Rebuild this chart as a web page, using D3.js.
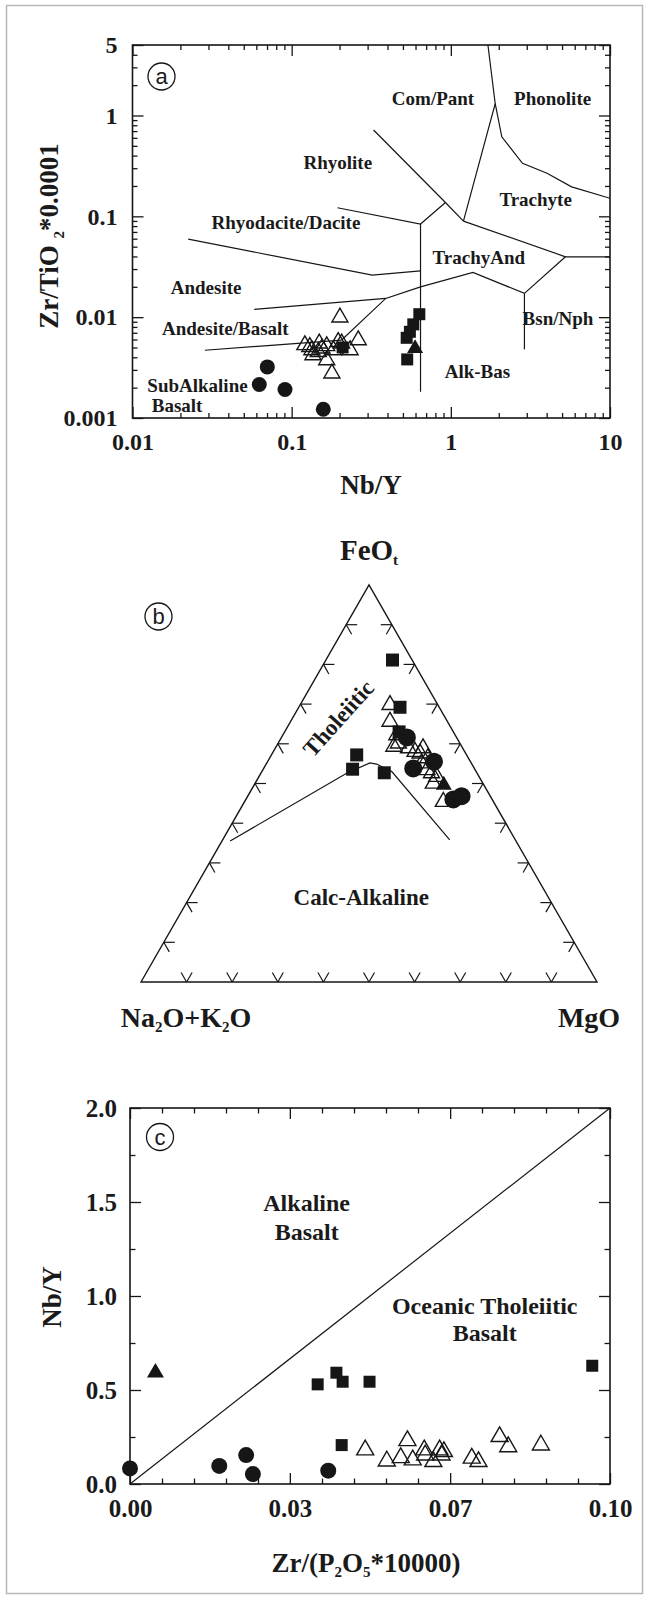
<!DOCTYPE html>
<html>
<head>
<meta charset="utf-8">
<script src="https://cdn.jsdelivr.net/npm/d3@7"></script>
<style>
  html, body { margin: 0; padding: 0; background: #fff; }
  svg { display: block; }
  text { font-family: "Liberation Serif", "Times New Roman", serif; font-weight: bold; fill: #1a1a1a; }
  .circ { font-family: "Liberation Sans", Arial, sans-serif; font-weight: normal; }
</style>
</head>
<body>
<svg id="fig" width="645" height="1600"></svg>
<script>
// ---------- Panel (a): Zr/TiO2 vs Nb/Y ----------
const aCircles  = [[0.0703, 0.00321], [0.0626, 0.00215], [0.0908, 0.00192], [0.158, 0.00122]];
const aSquares  = [[0.634, 0.0107], [0.581, 0.00848], [0.553, 0.00716], [0.528, 0.00624], [0.532, 0.00381], [0.209, 0.00501]];
const aSolidTri = [[0.596, 0.0049]];
const aOpenTri  = [[0.201, 0.00995], [0.121, 0.00529], [0.134, 0.00471], [0.149, 0.0055], [0.136, 0.0042],
                   [0.166, 0.00517], [0.183, 0.00471], [0.196, 0.00569], [0.233, 0.00471], [0.262, 0.00592],
                   [0.166, 0.00375], [0.179, 0.00277], [0.147, 0.00453], [0.130, 0.00508], [0.206, 0.0055],
                   [0.155, 0.0049]];
const aXTicks = [0.01, 0.1, 1, 10];
const aXLabels = ["0.01", "0.1", "1", "10"];
const aYTicks = [0.001, 0.01, 0.1, 1, 5];
const aYLabels = ["0.001", "0.01", "0.1", "1", "5"];
// field boundaries, in (Nb/Y, Zr/TiO2) units
const aBoundaries = [
  [[1.71, 5], [1.9, 1.31], [1.2, 0.0897]],
  [[1.9, 1.31], [2.09, 0.615], [2.82, 0.335], [4.02, 0.267], [5.74, 0.196], [10, 0.151]],
  [[0.327, 0.718], [0.925, 0.137], [1.2, 0.0897]],
  [[1.2, 0.0897], [5.25, 0.0397], [10, 0.0397]],
  [[0.194, 0.1216], [0.645, 0.0838], [0.925, 0.137]],
  [[0.645, 0.0838], [0.645, 0.00182]],
  [[0.0224, 0.0594], [0.321, 0.0261], [0.645, 0.0288]],
  [[5.25, 0.0397], [2.9, 0.0172], [1.377, 0.0278], [0.645, 0.020], [0.390, 0.01534], [0.206, 0.00593]],
  [[2.9, 0.0172], [2.9, 0.0048]],
  [[0.0582, 0.01194], [0.390, 0.01534]],
  [[0.0285, 0.0047], [0.206, 0.00593]]
];
const aFieldNames = ["Com/Pant", "Phonolite", "Rhyolite", "Trachyte", "Rhyodacite/Dacite", "TrachyAnd",
                     "Andesite", "Andesite/Basalt", "Bsn/Nph", "Alk-Bas", "SubAlkaline", "Basalt"];
const aFieldAt = [[0.773, 1.28], [4.36, 1.28], [0.195, 0.297], [3.41, 0.1256], [0.0921, 0.0747], [1.499, 0.0339],
                  [0.029, 0.0171], [0.0383, 0.0067], [4.71, 0.00828], [1.47, 0.00248], [0.0256, 0.00183], [0.01905, 0.00114]];

// ---------- Panel (b): AFM ternary, [Na2O+K2O, FeOt, MgO] in % ----------
const bSquares  = [[4.3, 81.1, 14.6], [8.6, 69.2, 22.2], [11.9, 63.0, 25.1], [24.1, 57.2, 18.7], [26.8, 53.6, 19.6], [20.3, 52.7, 27.0]];
const bCircles  = [[10.9, 61.6, 27.5], [13.4, 53.8, 32.8], [8.0, 55.5, 36.5], [8.5, 46.0, 45.5], [6.3, 46.8, 46.9]];
const bSolidTri = [[8.8, 49.6, 41.6]];
const bOpenTri  = [[10.5, 69.8, 19.7], [12.6, 65.6, 21.8], [12.8, 62.2, 25.0], [14.9, 59.3, 25.8], [13.5, 60.1, 26.4],
                   [11.9, 58.9, 29.2], [10.9, 58.0, 31.1], [8.7, 58.9, 32.4], [10.0, 57.6, 32.4], [10.9, 55.1, 34.0],
                   [10.6, 53.4, 36.0], [10.0, 52.6, 37.4], [9.3, 51.7, 39.0], [10.9, 50.0, 39.1], [11.0, 45.4, 43.6],
                   [8.9, 56.4, 34.7]];
const bDivide   = [[62.7, 35.5, 1.8], [28.6, 52.6, 18.8], [22.2, 55.2, 22.6], [20.9, 54.9, 24.2], [18.5, 53.0, 28.5], [14.4, 35.8, 49.8]];
const bTickSteps = [10, 20, 30, 40, 50, 60, 70, 80, 90];

// ---------- Panel (c): Nb/Y vs Zr/(P2O5*10000) ----------
const cCircles  = [[0.0, 0.083], [0.0186, 0.096], [0.0242, 0.154], [0.0256, 0.053], [0.0413, 0.071]];
const cSquares  = [[0.0391, 0.530], [0.0430, 0.592], [0.0443, 0.544], [0.0499, 0.544], [0.0441, 0.207], [0.0963, 0.629]];
const cSolidTri = [[0.0053, 0.592]];
const cOpenTri  = [[0.0490, 0.181], [0.0535, 0.122], [0.0564, 0.140], [0.0578, 0.230], [0.0589, 0.128],
                   [0.0613, 0.181], [0.0615, 0.154], [0.0632, 0.119], [0.0645, 0.181], [0.0649, 0.154],
                   [0.0654, 0.172], [0.0712, 0.137], [0.0726, 0.119], [0.0770, 0.252], [0.0788, 0.198],
                   [0.0856, 0.207]];
const cXTicks = [0, 0.0333, 0.0667, 0.1];
const cXLabels = ["0.00", "0.03", "0.07", "0.10"];
const cXMinor = [0.00667, 0.01333, 0.02, 0.02667, 0.04, 0.04667, 0.05333, 0.06, 0.07333, 0.08, 0.08667, 0.09333];
const cYTicks = [0, 0.5, 1.0, 1.5, 2.0];
const cYLabels = ["0.0", "0.5", "1.0", "1.5", "2.0"];
const cYMinor = [0.25, 0.75, 1.25, 1.75];
const cDivide = [[0, 0], [0.1, 2.0]];

// ======================================================================
const ink = "#161616";
const svg = d3.select("#fig");

// outer frame
svg.append("rect").attr("x", 6.5).attr("y", 5.5).attr("width", 636).attr("height", 1588)
  .attr("fill", "none").attr("stroke", "#b8b8b8").attr("stroke-width", 1.5);

function styleAxis(sel, fs) {
  sel.select(".domain").remove();
  sel.attr("color", ink);
  sel.selectAll("line").attr("stroke-width", 1.3);
  sel.selectAll("text").style("font-size", fs + "px")
    .style("font-family", '"Liberation Serif", "Times New Roman", serif').style("font-weight", "bold");
}

function frameAxes(g, x, y, o) {
  const [x0, x1] = x.range(), [y0, y1] = y.range();
  const add = (t, axis) => g.append("g").attr("transform", t).call(axis).call(s => styleAxis(s, o.fs));
  add(`translate(0,${y0})`, d3.axisBottom(x).tickValues(o.xMinor).tickSize(-o.minor).tickFormat(""));
  add(`translate(0,${y0})`, d3.axisBottom(x).tickValues(o.xMajor).tickSize(-o.major).tickPadding(o.xPad).tickFormat((d, i) => o.xLabels[i]));
  add(`translate(0,${y1})`, d3.axisTop(x).tickValues(o.xMinor).tickSize(-o.minor).tickFormat(""));
  add(`translate(0,${y1})`, d3.axisTop(x).tickValues(o.xMajor).tickSize(-o.major).tickFormat(""));
  add(`translate(${x0},0)`, d3.axisLeft(y).tickValues(o.yMinor).tickSize(-o.minor).tickFormat(""));
  add(`translate(${x0},0)`, d3.axisLeft(y).tickValues(o.yMajor).tickSize(-o.major).tickPadding(o.yPad).tickFormat((d, i) => o.yLabels[i]));
  add(`translate(${x1},0)`, d3.axisRight(y).tickValues(o.yMinor).tickSize(-o.minor).tickFormat(""));
  add(`translate(${x1},0)`, d3.axisRight(y).tickValues(o.yMajor).tickSize(-o.major).tickFormat(""));
  g.append("rect").attr("x", x0).attr("y", y1).attr("width", x1 - x0).attr("height", y0 - y1)
    .attr("fill", "none").attr("stroke", ink).attr("stroke-width", 1.6);
}

function marks(g, pts, proj, kind, sz) {
  const spec = {
    circle:   [d3.symbolCircle, Math.PI * sz * sz, ink, "none"],
    square:   [d3.symbolSquare, sz * sz, ink, "none"],
    solidTri: [d3.symbolTriangle, sz * sz * Math.sqrt(3) / 4, ink, "none"],
    openTri:  [d3.symbolTriangle, sz * sz * Math.sqrt(3) / 4, "none", ink]
  }[kind];
  g.selectAll(null).data(pts).join("path")
    .attr("transform", d => { const p = proj(d); return `translate(${p[0]},${p[1]})`; })
    .attr("d", d3.symbol().type(spec[0]).size(spec[1]))
    .attr("fill", spec[2]).attr("stroke", spec[3]).attr("stroke-width", 1.4);
}

function circledLetter(g, cx, cy, letter) {
  g.append("circle").attr("cx", cx).attr("cy", cy).attr("r", 13.5)
    .attr("fill", "none").attr("stroke", ink).attr("stroke-width", 1.3);
  g.append("text").attr("class", "circ").attr("x", cx).attr("y", cy).attr("dy", "0.36em")
    .attr("text-anchor", "middle").style("font-size", "22px").text(letter);
}

// ---------------- (a) ----------------
const xA = d3.scaleLog().domain([0.01, 10]).range([132.5, 610]);
const yA = d3.scaleLog().domain([0.001, 5]).range([418, 45]);
const gA = svg.append("g");
svg.append("defs").append("clipPath").attr("id", "clipA").append("rect")
  .attr("x", 132.5).attr("y", 45).attr("width", 477.5).attr("height", 373);

const minorOf = (ticks, majors) => ticks.filter(t => !majors.some(m => Math.abs(m - t) / t < 1e-6));
const lineA = d3.line().x(d => xA(d[0])).y(d => yA(d[1]));
gA.append("g").attr("clip-path", "url(#clipA)").selectAll("path").data(aBoundaries).join("path")
  .attr("d", lineA).attr("fill", "none").attr("stroke", ink).attr("stroke-width", 1.2);

gA.selectAll("text.field").data(aFieldNames).join("text").attr("class", "field")
  .attr("x", (d, i) => xA(aFieldAt[i][0])).attr("y", (d, i) => yA(aFieldAt[i][1]))
  .attr("text-anchor", "middle").style("font-size", "19px").text(d => d);

frameAxes(gA, xA, yA, {
  fs: 24, major: 11, minor: 5, xPad: 15, yPad: 15,
  xMajor: aXTicks, xLabels: aXLabels, xMinor: minorOf(xA.ticks(), aXTicks),
  yMajor: aYTicks, yLabels: aYLabels, yMinor: minorOf(yA.ticks(), aYTicks)
});

const projA = d => [xA(d[0]), yA(d[1])];
marks(gA, aOpenTri, projA, "openTri", 16);
marks(gA, aCircles, projA, "circle", 7.5);
marks(gA, aSquares, projA, "square", 12);
marks(gA, aSolidTri, projA, "solidTri", 16);
circledLetter(gA, 161.5, 76.5, "a");

const tA = gA.append("text").attr("transform", "translate(58,236) rotate(-90)")
  .attr("text-anchor", "middle").style("font-size", "27px");
tA.append("tspan").text("Zr/TiO ");
tA.append("tspan").attr("dy", 6).style("font-size", "15px").text("2");
tA.append("tspan").attr("dy", -6).text("*0.0001");
gA.append("text").attr("x", 371).attr("y", 494).attr("text-anchor", "middle").style("font-size", "27px").text("Nb/Y");

// ---------------- (b) ----------------
const gB = svg.append("g");
const xT = d3.scaleLinear().domain([0, 100]).range([141, 597]);
const yT = d3.scaleLinear().domain([0, 100]).range([982, 585]);
const projT = d => [xT(d[2] + d[1] / 2), yT(d[1])];

gB.append("path")
  .attr("d", d3.line()([projT([100, 0, 0]), projT([0, 100, 0]), projT([0, 0, 100])]) + "Z")
  .attr("fill", "none").attr("stroke", ink).attr("stroke-width", 1.4);

// grid-direction ticks on each side
const L = 11;
const dR = [0.498, 0.867], dL = [-0.498, 0.867];
const tickSegs = [];
bTickSteps.forEach(s => {
  const pb = projT([100 - s, 0, s]);           // base
  tickSegs.push([pb, [pb[0] - L * 0.5, pb[1] - L * 0.866]], [pb, [pb[0] + L * 0.5, pb[1] - L * 0.866]]);
  const pl = projT([100 - s, s, 0]);           // left side
  tickSegs.push([pl, [pl[0] + L, pl[1]]], [pl, [pl[0] + L * dR[0], pl[1] + L * dR[1]]]);
  const pr = projT([0, s, 100 - s]);           // right side
  tickSegs.push([pr, [pr[0] - L, pr[1]]], [pr, [pr[0] + L * dL[0], pr[1] + L * dL[1]]]);
});
gB.selectAll("path.tk").data(tickSegs).join("path").attr("class", "tk")
  .attr("d", d3.line()).attr("stroke", ink).attr("stroke-width", 1.2).attr("fill", "none");

gB.append("path").datum(bDivide.map(projT)).attr("d", d3.line())
  .attr("fill", "none").attr("stroke", ink).attr("stroke-width", 1.2);

marks(gB, bOpenTri, projT, "openTri", 16);
marks(gB, bCircles, projT, "circle", 9);
marks(gB, bSquares, projT, "square", 13);
marks(gB, bSolidTri, projT, "solidTri", 16);

const thol = projT([23.5, 66.4, 10.1]);
gB.append("text").attr("transform", `translate(${thol[0]},${thol[1]}) rotate(-48)`)
  .attr("text-anchor", "middle").attr("dy", "0.33em").style("font-size", "23px").text("Tholeiitic");
const calc = projT([42.0, 19.4, 38.6]);
gB.append("text").attr("x", calc[0]).attr("y", calc[1]).attr("text-anchor", "middle")
  .style("font-size", "23px").text("Calc-Alkaline");

const feo = gB.append("text").attr("x", 369).attr("y", 560).attr("text-anchor", "middle").style("font-size", "29px");
feo.append("tspan").text("FeO");
feo.append("tspan").attr("dy", 5).style("font-size", "15px").text("t");

const alk = gB.append("text").attr("x", 186).attr("y", 1027).attr("text-anchor", "middle").style("font-size", "28px");
alk.append("tspan").text("Na");
alk.append("tspan").attr("dy", 5).style("font-size", "15px").text("2");
alk.append("tspan").attr("dy", -5).text("O+K");
alk.append("tspan").attr("dy", 5).style("font-size", "15px").text("2");
alk.append("tspan").attr("dy", -5).text("O");
gB.append("text").attr("x", 589).attr("y", 1027).attr("text-anchor", "middle").style("font-size", "28px").text("MgO");
circledLetter(gB, 158.5, 616.5, "b");

// ---------------- (c) ----------------
const xC = d3.scaleLinear().domain([0, 0.1]).range([130, 610]);
const yC = d3.scaleLinear().domain([0, 2]).range([1484, 1108]);
const gC = svg.append("g");

gC.append("path").datum(cDivide).attr("d", d3.line().x(d => xC(d[0])).y(d => yC(d[1])))
  .attr("fill", "none").attr("stroke", ink).attr("stroke-width", 1.2);

frameAxes(gC, xC, yC, {
  fs: 25, major: 11, minor: 5.5, xPad: 15, yPad: 13,
  xMajor: cXTicks, xLabels: cXLabels, xMinor: cXMinor,
  yMajor: cYTicks, yLabels: cYLabels, yMinor: cYMinor
});

const projC = d => [xC(d[0]), yC(d[1])];
marks(gC, cOpenTri, projC, "openTri", 17);
marks(gC, cCircles, projC, "circle", 8);
marks(gC, cSquares, projC, "square", 12);
marks(gC, cSolidTri, projC, "solidTri", 17);

const cNames = [["Alkaline", 0.0368, 1.452], ["Basalt", 0.0368, 1.298],
                ["Oceanic Tholeiitic", 0.0739, 0.904], ["Basalt", 0.0739, 0.761]];
gC.selectAll("text.field").data(cNames).join("text").attr("class", "field")
  .attr("x", d => xC(d[1])).attr("y", d => yC(d[2])).attr("text-anchor", "middle")
  .style("font-size", "24px").text(d => d[0]);

gC.append("text").attr("transform", "translate(61,1297) rotate(-90)").attr("text-anchor", "middle")
  .style("font-size", "27px").text("Nb/Y");
const zt = gC.append("text").attr("x", 366).attr("y", 1572).attr("text-anchor", "middle").style("font-size", "27px");
zt.append("tspan").text("Zr/(P");
zt.append("tspan").attr("dy", 5).style("font-size", "15px").text("2");
zt.append("tspan").attr("dy", -5).text("O");
zt.append("tspan").attr("dy", 5).style("font-size", "15px").text("5");
zt.append("tspan").attr("dy", -5).text("*10000)");
circledLetter(gC, 160, 1137, "c");
</script>
</body>
</html>
